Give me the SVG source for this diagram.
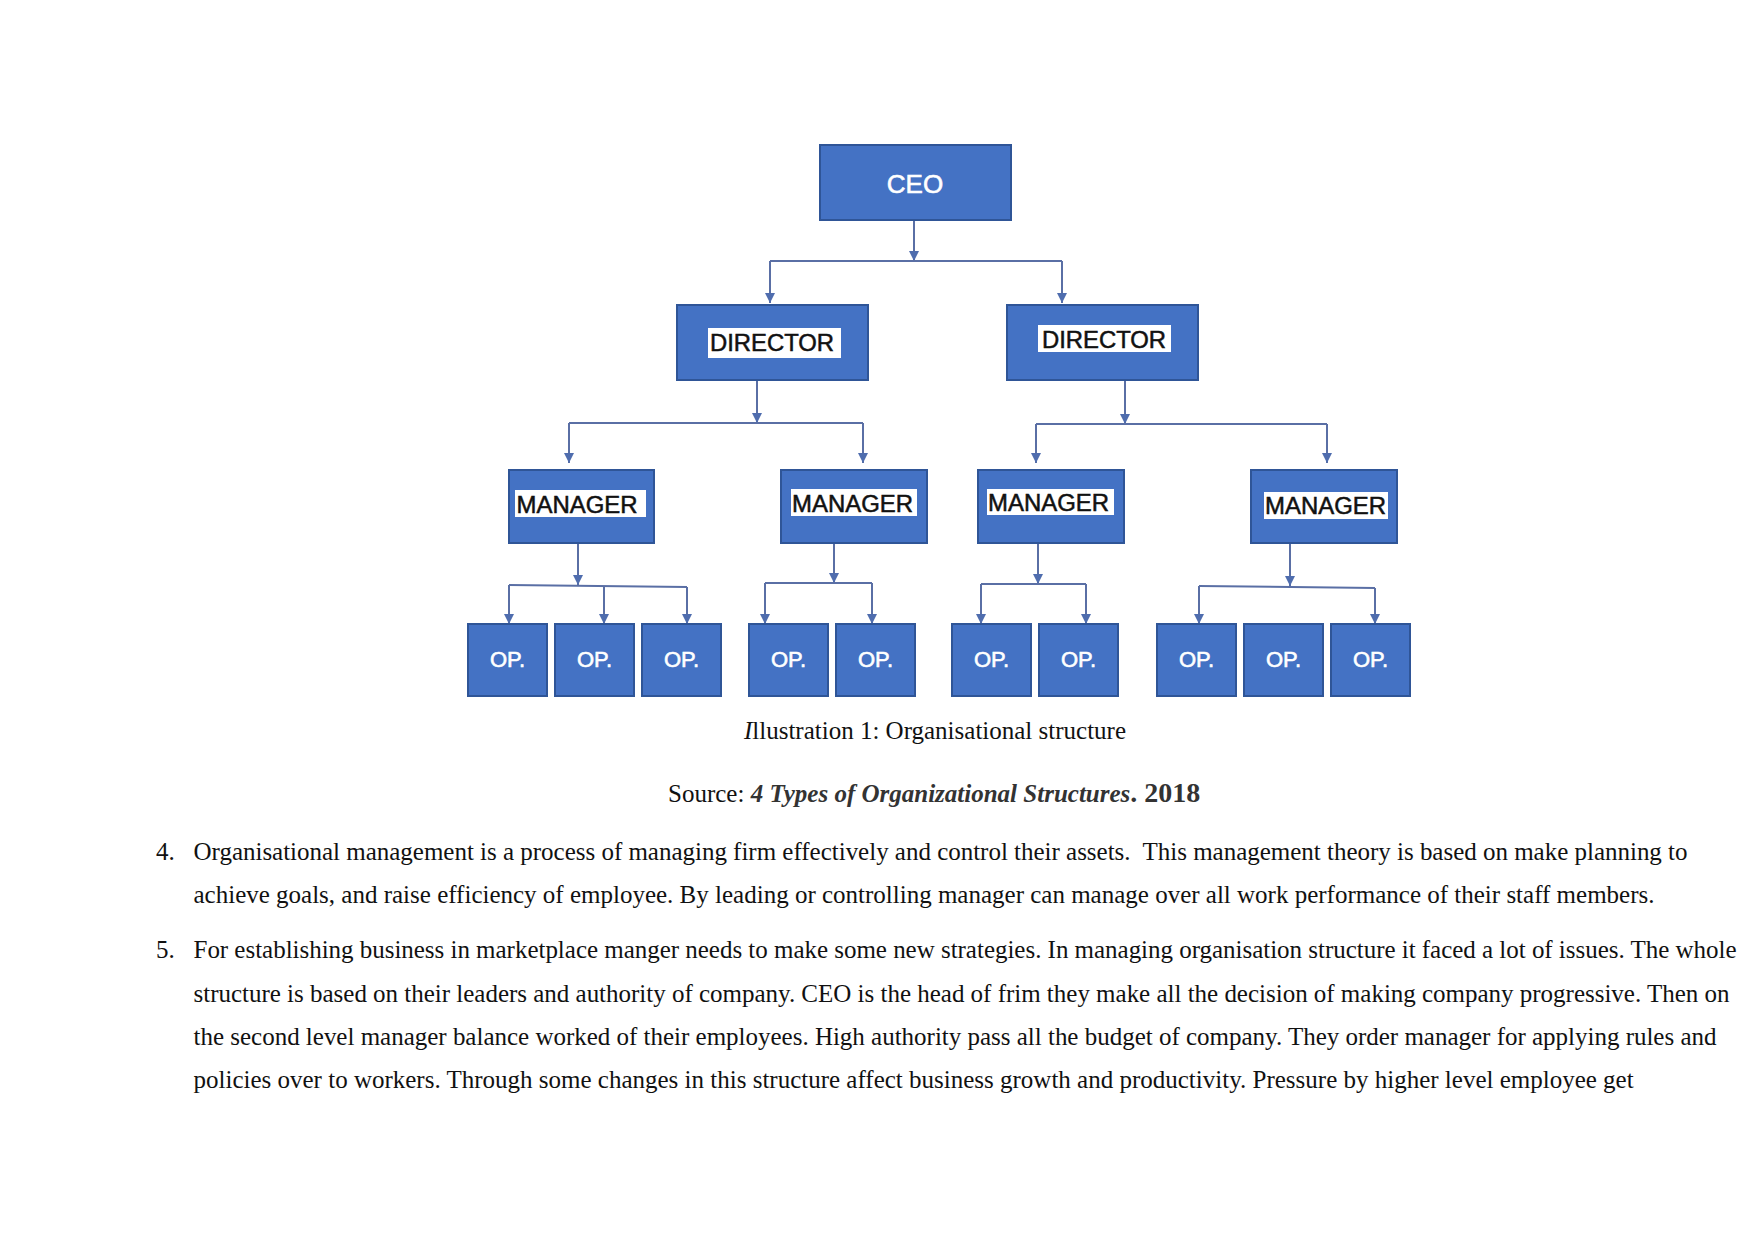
<svg xmlns="http://www.w3.org/2000/svg" width="1754" height="1241" viewBox="0 0 1754 1241">
<style>
.box{fill:#4472C4;stroke:#2F5597;stroke-width:2}
.lbl{fill:#ffffff}
.wt{font-family:"Liberation Sans",Arial,sans-serif;fill:#ffffff;text-anchor:middle;stroke:#ffffff;stroke-width:0.6}
.bk{font-family:"Liberation Sans",Arial,sans-serif;fill:#111111;text-anchor:middle;font-size:23px;stroke:#111111;stroke-width:0.5}
.con{fill:none;stroke:#5A6FA5;stroke-width:2}
.body{font-family:"Liberation Serif","Times New Roman",serif;font-size:25px;fill:#111111}
</style>
<defs>
<marker id="ah" viewBox="0 0 10 10" refX="10" refY="5" markerWidth="10" markerHeight="10" markerUnits="userSpaceOnUse" orient="auto">
<path d="M0,0 L10,5 L0,10 Z" fill="#4F6DAE"/>
</marker>
</defs>
<rect width="1754" height="1241" fill="#ffffff"/>

<g id="connectors">
<line class="con" x1="914" y1="220" x2="914" y2="261" marker-end="url(#ah)"/>
<path class="con" d="M770,261 L1062,261"/>
<line class="con" x1="770" y1="261" x2="770" y2="303" marker-end="url(#ah)"/>
<line class="con" x1="1062" y1="261" x2="1062" y2="303" marker-end="url(#ah)"/>

<line class="con" x1="757" y1="380" x2="757" y2="423" marker-end="url(#ah)"/>
<path class="con" d="M569,423 L863,423"/>
<line class="con" x1="569" y1="423" x2="569" y2="463" marker-end="url(#ah)"/>
<line class="con" x1="863" y1="423" x2="863" y2="463" marker-end="url(#ah)"/>

<line class="con" x1="1125" y1="380" x2="1125" y2="424" marker-end="url(#ah)"/>
<path class="con" d="M1036,424 L1327,424"/>
<line class="con" x1="1036" y1="424" x2="1036" y2="463" marker-end="url(#ah)"/>
<line class="con" x1="1327" y1="424" x2="1327" y2="463" marker-end="url(#ah)"/>

<line class="con" x1="578" y1="543" x2="578" y2="585" marker-end="url(#ah)"/>
<path class="con" d="M509,585 L687,587"/>
<line class="con" x1="509" y1="585" x2="509" y2="624" marker-end="url(#ah)"/>
<line class="con" x1="604" y1="586" x2="604" y2="624" marker-end="url(#ah)"/>
<line class="con" x1="687" y1="587" x2="687" y2="624" marker-end="url(#ah)"/>

<line class="con" x1="834" y1="543" x2="834" y2="583" marker-end="url(#ah)"/>
<path class="con" d="M765,583 L872,583"/>
<line class="con" x1="765" y1="583" x2="765" y2="624" marker-end="url(#ah)"/>
<line class="con" x1="872" y1="583" x2="872" y2="624" marker-end="url(#ah)"/>

<line class="con" x1="1038" y1="543" x2="1038" y2="584" marker-end="url(#ah)"/>
<path class="con" d="M981,584 L1086,584"/>
<line class="con" x1="981" y1="584" x2="981" y2="624" marker-end="url(#ah)"/>
<line class="con" x1="1086" y1="584" x2="1086" y2="624" marker-end="url(#ah)"/>

<line class="con" x1="1290" y1="543" x2="1290" y2="586" marker-end="url(#ah)"/>
<path class="con" d="M1199,586 L1375,588"/>
<line class="con" x1="1199" y1="586" x2="1199" y2="624" marker-end="url(#ah)"/>
<line class="con" x1="1375" y1="588" x2="1375" y2="624" marker-end="url(#ah)"/>
</g>

<g id="ceo">
<rect class="box" x="820" y="145" width="191" height="75"/>
<text class="wt" x="915" y="193" font-size="26">CEO</text>
</g>

<g id="director1">
<rect class="box" x="677" y="305" width="191" height="75"/>
<rect class="lbl" x="708" y="328" width="133" height="30"/>
<text class="bk" x="772" y="351" font-size="24" textLength="124" lengthAdjust="spacingAndGlyphs">DIRECTOR</text>
</g>
<g id="director2">
<rect class="box" x="1007" y="305" width="191" height="75"/>
<rect class="lbl" x="1038" y="325" width="133" height="27"/>
<text class="bk" x="1104" y="348" font-size="24" textLength="124" lengthAdjust="spacingAndGlyphs">DIRECTOR</text>
</g>

<g id="manager1">
<rect class="box" x="509" y="470" width="145" height="73"/>
<rect class="lbl" x="515" y="490" width="131" height="27"/>
<text class="bk" x="577" y="513" textLength="121" lengthAdjust="spacingAndGlyphs">MANAGER</text>
</g>
<g id="manager2">
<rect class="box" x="781" y="470" width="146" height="73"/>
<rect class="lbl" x="791" y="489" width="126" height="27"/>
<text class="bk" x="852.5" y="512" textLength="121" lengthAdjust="spacingAndGlyphs">MANAGER</text>
</g>
<g id="manager3">
<rect class="box" x="978" y="470" width="146" height="73"/>
<rect class="lbl" x="987" y="489" width="127" height="26"/>
<text class="bk" x="1048.5" y="511" textLength="121" lengthAdjust="spacingAndGlyphs">MANAGER</text>
</g>
<g id="manager4">
<rect class="box" x="1251" y="470" width="146" height="73"/>
<rect class="lbl" x="1264" y="492" width="124" height="27"/>
<text class="bk" x="1325.5" y="514" textLength="121" lengthAdjust="spacingAndGlyphs">MANAGER</text>
</g>

<g id="op1"><rect class="box" x="468" y="624" width="79" height="72"/><text class="wt" x="507.5" y="667" font-size="22">OP.</text></g>
<g id="op2"><rect class="box" x="555" y="624" width="79" height="72"/><text class="wt" x="594.5" y="667" font-size="22">OP.</text></g>
<g id="op3"><rect class="box" x="642" y="624" width="79" height="72"/><text class="wt" x="681.5" y="667" font-size="22">OP.</text></g>
<g id="op4"><rect class="box" x="749" y="624" width="79" height="72"/><text class="wt" x="788.5" y="667" font-size="22">OP.</text></g>
<g id="op5"><rect class="box" x="836" y="624" width="79" height="72"/><text class="wt" x="875.5" y="667" font-size="22">OP.</text></g>
<g id="op6"><rect class="box" x="952" y="624" width="79" height="72"/><text class="wt" x="991.5" y="667" font-size="22">OP.</text></g>
<g id="op7"><rect class="box" x="1039" y="624" width="79" height="72"/><text class="wt" x="1078.5" y="667" font-size="22">OP.</text></g>
<g id="op8"><rect class="box" x="1157" y="624" width="79" height="72"/><text class="wt" x="1196.5" y="667" font-size="22">OP.</text></g>
<g id="op9"><rect class="box" x="1244" y="624" width="79" height="72"/><text class="wt" x="1283.5" y="667" font-size="22">OP.</text></g>
<g id="op10"><rect class="box" x="1331" y="624" width="79" height="72"/><text class="wt" x="1370.5" y="667" font-size="22">OP.</text></g>

<g id="caption">
<text class="body" x="935" y="739" text-anchor="middle"><tspan font-style="italic">I</tspan>llustration 1: Organisational structure</text>
<text class="body" x="668" y="802">Source: <tspan font-weight="bold" font-style="italic" fill="#333333">4 Types of Organizational Structures</tspan><tspan font-weight="bold" font-size="28" fill="#333333">. 2018</tspan></text>
</g>

<g id="paragraphs">
<text class="body" x="156" y="860">4.</text>
<text class="body" x="193.5" y="860" textLength="1494" lengthAdjust="spacing">Organisational management is a process of managing firm effectively and control their assets.&#160; This management theory is based on make planning to</text>
<text class="body" x="193.5" y="903">achieve goals, and raise efficiency of employee. By leading or controlling manager can manage over all work performance of their staff members.</text>
<text class="body" x="156" y="958">5.</text>
<text class="body" x="193.5" y="958" textLength="1543" lengthAdjust="spacing">For establishing business in marketplace manger needs to make some new strategies. In managing organisation structure it faced a lot of issues. The whole</text>
<text class="body" x="193.5" y="1002" textLength="1536" lengthAdjust="spacing">structure is based on their leaders and authority of company. CEO is the head of frim they make all the decision of making company progressive. Then on</text>
<text class="body" x="193.5" y="1045" textLength="1523" lengthAdjust="spacing">the second level manager balance worked of their employees. High authority pass all the budget of company. They order manager for applying rules and</text>
<text class="body" x="193.5" y="1088">policies over to workers. Through some changes in this structure affect business growth and productivity. Pressure by higher level employee get</text>
</g>
</svg>
